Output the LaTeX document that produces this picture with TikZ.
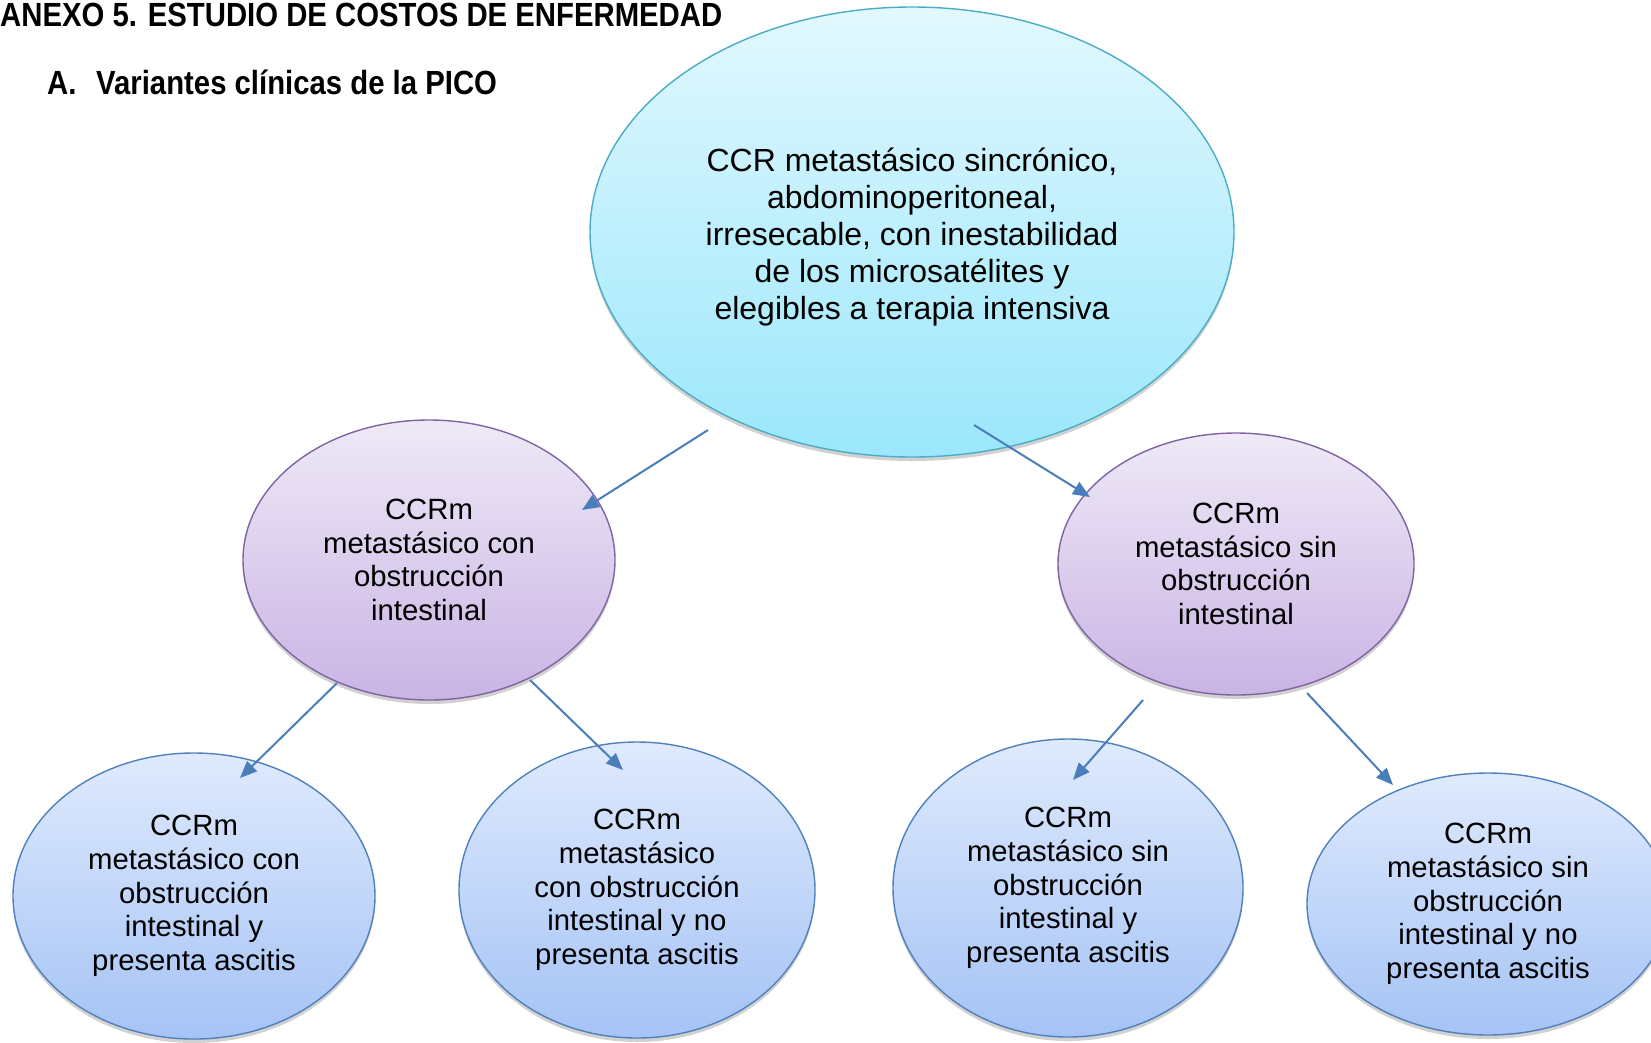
\documentclass[tikz,border=0pt]{standalone}
\usepackage{fontspec}
\usepackage{graphicx}
\setmainfont{Liberation Sans}
\usetikzlibrary{shapes.geometric,arrows.meta,shadows}
\definecolor{topA}{HTML}{E2F8FE}
\definecolor{topB}{HTML}{9BE7FB}
\definecolor{topD}{HTML}{4BACC6}
\definecolor{purA}{HTML}{EFE9F7}
\definecolor{purB}{HTML}{C9B4E4}
\definecolor{purD}{HTML}{8064A2}
\definecolor{bluA}{HTML}{DFEAFD}
\definecolor{bluB}{HTML}{A5C3F5}
\definecolor{bluD}{HTML}{4F81BD}
\definecolor{arrC}{HTML}{4A7EBB}
\begin{document}
\begin{tikzpicture}[x=1pt,y=-1pt,
  ell/.style={ellipse, inner sep=0pt, align=center, line width=1.4pt,
    font=\fontsize{29.3}{33.7}\selectfont,
    drop shadow={shadow xshift=0pt, shadow yshift=-4pt, opacity=0.18, fill=black}},
  topell/.style={ell, draw=topD, top color=topA, bottom color=topB,
    font=\fontsize{32}{36.8}\selectfont},
  purell/.style={ell, draw=purD, top color=purA, bottom color=purB},
  bluell/.style={ell, draw=bluD, top color=bluA, bottom color=bluB},
  arr/.style={draw=arrC, line width=2pt, -{Triangle[length=17pt,width=14pt]}},
  ttl/.style={inner sep=0pt, anchor=base west, font=\bfseries\fontsize{33.5}{38}\selectfont}
]
\clip (0,0) rectangle (1651,1042);
\fill[white] (0,0) rectangle (1651,1042);

\node[ttl] (title) at (0,26) {\scalebox{0.875}[1]{ANEXO 5. ESTUDIO DE COSTOS DE ENFERMEDAD}};
\node[ttl] (subA) at (47,94) {\scalebox{0.875}[1]{A.}};
\node[ttl] (subT) at (96,94) {\scalebox{0.875}[1]{Variantes clínicas de la PICO}};

\node[topell, minimum width=644pt, minimum height=450pt] (top) at (912,232)
  {\begin{tabular}{@{}c@{}}\rule{0pt}{38pt}CCR metastásico sincrónico,\\abdominoperitoneal,\\irresecable, con inestabilidad\\de los microsatélites y\\elegibles a terapia intensiva\end{tabular}};

\node[purell, minimum width=372pt, minimum height=280pt] (pl) at (429,560)
  {CCRm\\metastásico con\\obstrucción\\intestinal};
\node[purell, minimum width=356pt, minimum height=262pt] (pr) at (1236,564)
  {CCRm\\metastásico sin\\obstrucción\\intestinal};

\node[bluell, minimum width=362pt, minimum height=286pt] (b1) at (194,896)
  {CCRm\\metastásico con\\obstrucción\\intestinal y\\presenta ascitis};
\node[bluell, minimum width=356pt, minimum height=296pt] (b2) at (637,890)
  {CCRm\\metastásico\\con obstrucción\\intestinal y no\\presenta ascitis};
\node[bluell, minimum width=350pt, minimum height=298pt] (b3) at (1068,888)
  {CCRm\\metastásico sin\\obstrucción\\intestinal y\\presenta ascitis};
\node[bluell, minimum width=362pt, minimum height=262pt] (b4) at (1488,904)
  {CCRm\\metastásico sin\\obstrucción\\intestinal y no\\presenta ascitis};

\coordinate (a1s) at (708,430);  \coordinate (a1e) at (582,510);
\coordinate (a2s) at (974,425);  \coordinate (a2e) at (1090,497);
\coordinate (a3s) at (337,683);  \coordinate (a3e) at (240,778);
\coordinate (a4s) at (530,680);  \coordinate (a4e) at (623,770);
\coordinate (a5s) at (1143,700); \coordinate (a5e) at (1073,780);
\coordinate (a6s) at (1307,693); \coordinate (a6e) at (1393,785);

\draw[arr] (a1s) -- (a1e);
\draw[arr] (a2s) -- (a2e);
\draw[arr] (a3s) -- (a3e);
\draw[arr] (a4s) -- (a4e);
\draw[arr] (a5s) -- (a5e);
\draw[arr] (a6s) -- (a6e);
\end{tikzpicture}
\end{document}
